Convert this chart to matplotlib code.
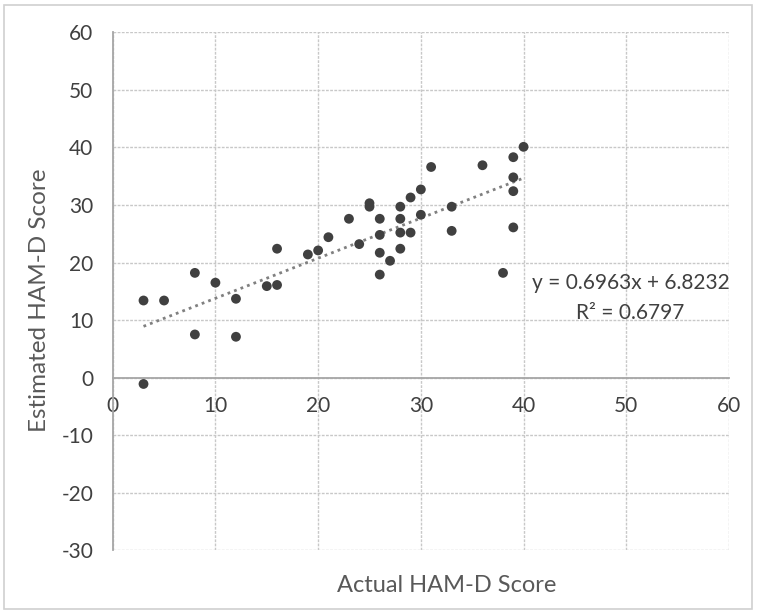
import matplotlib
matplotlib.use("Agg")
import matplotlib.pyplot as plt
from matplotlib.patches import Rectangle

plt.rcParams['font.family'] = ['Lato', 'DejaVu Sans']
plt.rcParams['axes.unicode_minus'] = False

# Data
actual = [3, 5, 8, 8, 10, 12, 12, 3, 15, 16, 16, 19, 20, 21, 23, 24,
          25, 25, 26, 26, 26, 26, 27, 28, 28, 28, 28, 29, 29, 30, 30,
          31, 33, 33, 36, 38, 39, 39, 39, 39, 40]
estimated = [13.4, 13.4, 18.2, 7.5, 16.5, 13.7, 7.1, -1.1, 15.9, 16.1, 22.4, 21.4, 22.1, 24.4, 27.6, 23.2,
             30.3, 29.7, 27.6, 24.8, 21.7, 17.9, 20.3, 29.7, 27.6, 25.2, 22.4, 25.2, 31.3, 32.7, 28.3,
             36.6, 29.7, 25.5, 36.9, 18.2, 38.3, 34.8, 32.4, 26.1, 40.1]
slope = 0.6963
intercept = 6.8232
r2 = 0.6797
x_ticks = [0, 10, 20, 30, 40, 50, 60]
y_ticks = [-30, -20, -10, 0, 10, 20, 30, 40, 50, 60]

fig = plt.figure(figsize=(7.57, 6.13), dpi=100)
ax = fig.add_axes([112.7/757, 1-550.3/613, (729-112.7)/757, (550.3-32.3)/613])

ax.set_xlim(0, 60)
ax.set_ylim(-30, 60)
ax.set_xticks(x_ticks)
ax.set_yticks(y_ticks)
ax.grid(True, color='#c8c8c8', linewidth=1.0, linestyle=(0, (2, 1)))
ax.set_axisbelow(True)

for s in ['top', 'right']:
    ax.spines[s].set_visible(False)
ax.spines['left'].set_color('#a6a6a6')
ax.spines['left'].set_linewidth(1.3)
ax.spines['bottom'].set_position(('data', 0))
ax.spines['bottom'].set_color('#a6a6a6')
ax.spines['bottom'].set_linewidth(1.3)

ax.tick_params(axis='both', length=0, labelsize=15, labelcolor='#404040')
ax.tick_params(axis='y', pad=14)
ax.tick_params(axis='x', pad=13)

# trendline
x0, x1 = min(actual), max(actual)
ax.plot([x0, x1], [slope*x0 + intercept, slope*x1 + intercept],
        color='#808080', linewidth=2.0, linestyle=(0, (1, 1.5)), zorder=2)

ax.scatter(actual, estimated, s=50, color='#404040', edgecolors='none', zorder=3)

ax.text(50.4, 16.5, f"y = {slope}x + {intercept}", ha='center', va='center',
        fontsize=15, color='#404040')
ax.text(50.4, 11.25, f"R² = {r2}", ha='center', va='center',
        fontsize=15, color='#404040')

fig.text(447/757, 1-585/613, "Actual HAM-D Score", ha='center', va='center',
         fontsize=17, color='#595959')
fig.text(40/757, 1-300/613, "Estimated HAM-D Score", ha='center', va='center',
         rotation=90, fontsize=17.5, color='#595959')

fig.patches.append(Rectangle((4/757, 1-609/613), 748/757, 604/613,
                             transform=fig.transFigure, fill=False,
                             edgecolor='#d0d0d0', linewidth=1.2))

fig.savefig('out.png', dpi=100)
